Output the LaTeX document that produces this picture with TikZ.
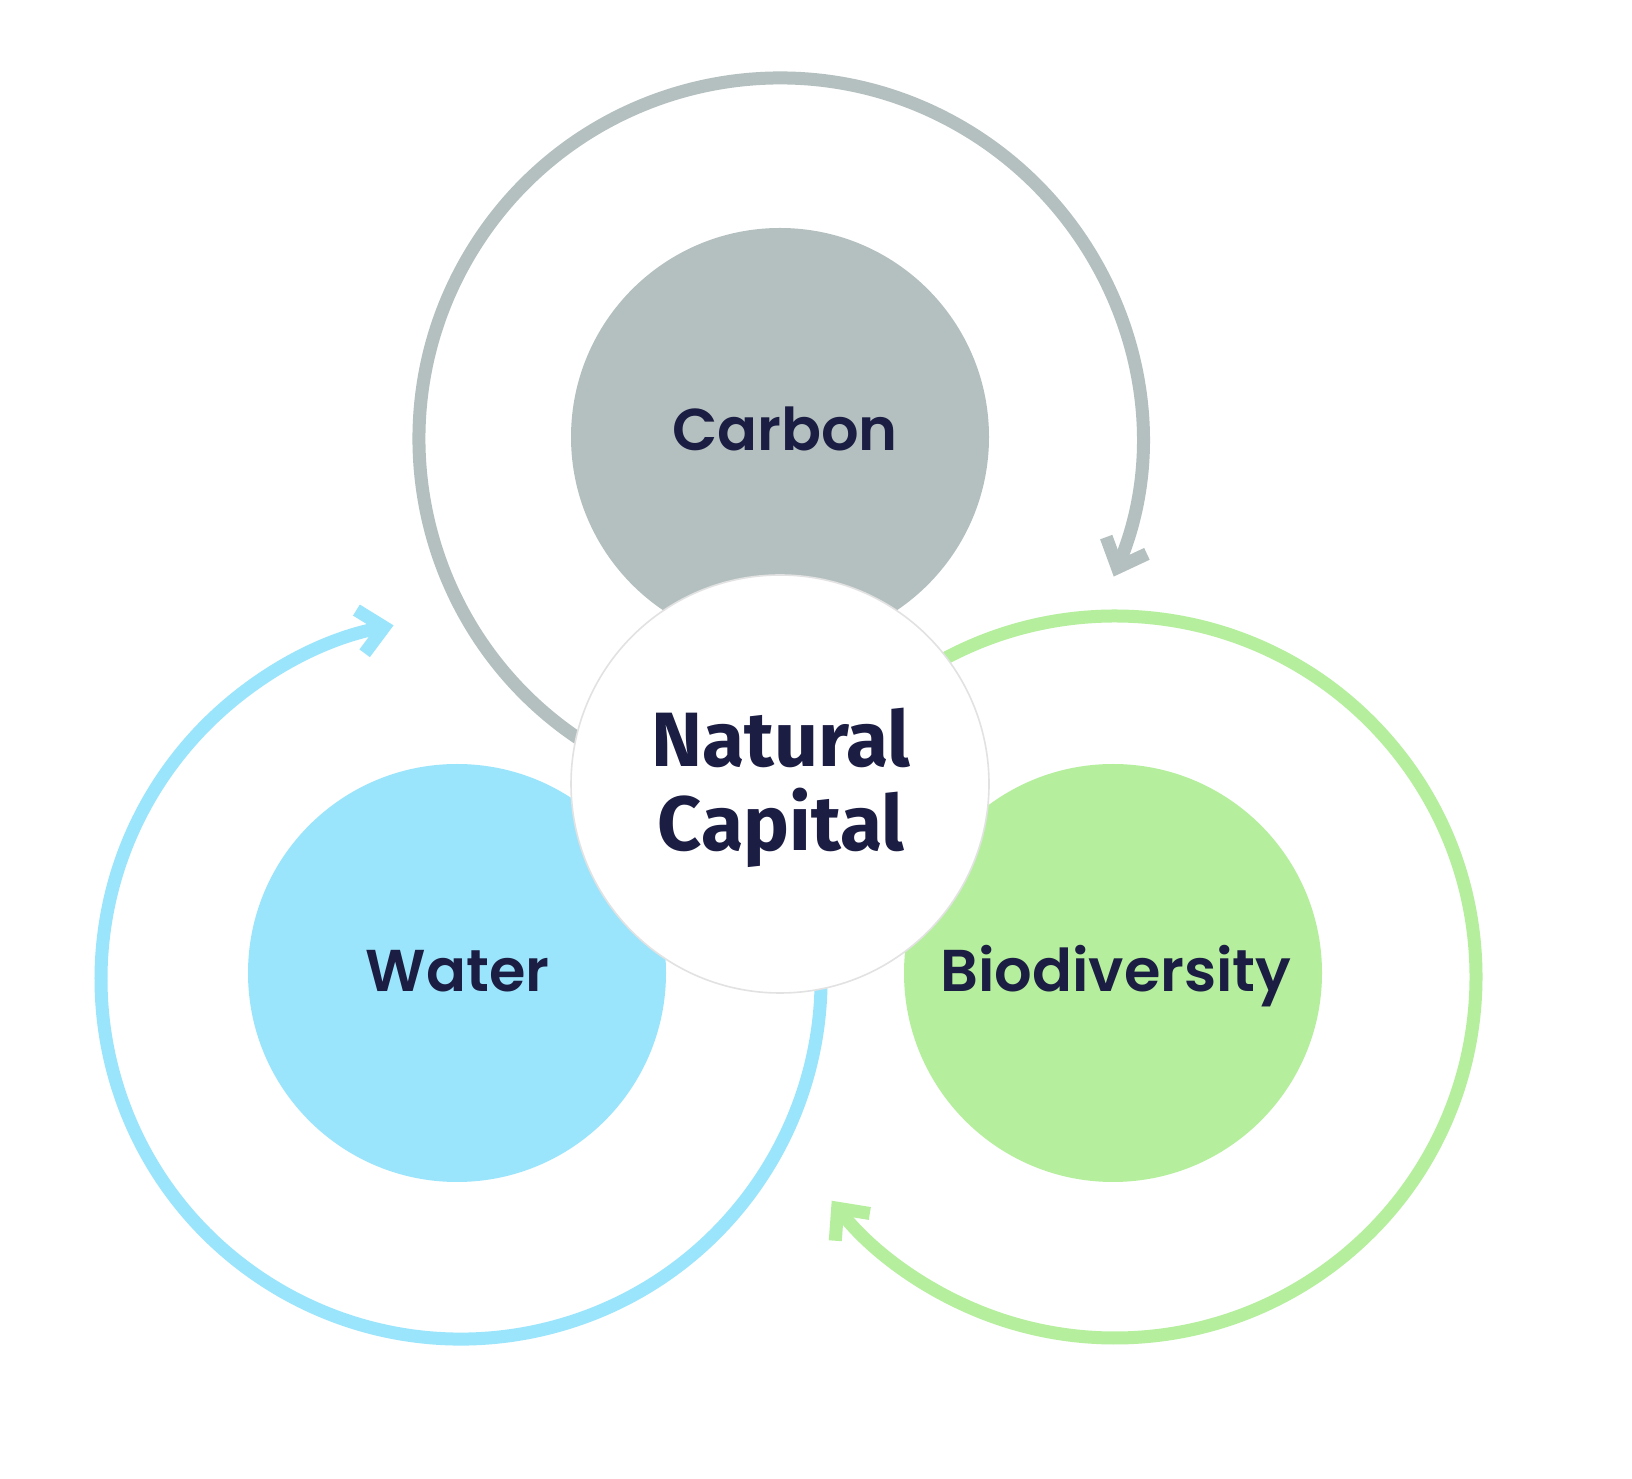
\documentclass[tikz,border=0pt]{standalone}
\usepackage{fontspec}
\usetikzlibrary{arrows.meta}
\newfontfamily\labfont{Poppins SemiBold}
\newfontfamily\capfont{Fira Sans Bold}
\definecolor{cgray}{HTML}{B4C0BF}
\definecolor{cblue}{HTML}{9BE5FC}
\definecolor{cgreen}{HTML}{B5EF9D}
\definecolor{ink}{HTML}{1B1D42}
\definecolor{rim}{HTML}{E2E2E2}
\begin{document}
\begin{tikzpicture}[x=0.5pt,y=0.5pt,
  fillc/.style={circle, minimum size=209pt, inner sep=0pt, draw=none},
  ring/.style={line width=6.5pt, -{Straight Barb[sharp,length=12pt,width=22pt]}},
  lab/.style={font=\labfont\fontsize{29.5}{36}\selectfont, text=ink, inner sep=0pt, anchor=base},
  caplab/.style={font=\capfont\fontsize{38.5}{46}\selectfont, text=ink, inner sep=0pt, anchor=base}]
\useasboundingbox[fill=white] (0,0) rectangle (1632,1478);
% filled circles
\node[fillc, fill=cgray] (carbon) at (780,1041) {};
\node[fillc, fill=cblue] (water) at (457,505) {};
\node[fillc, fill=cgreen] (bio) at (1113,505) {};
% ring centres
\coordinate (cring) at (780,1039);
\coordinate (wring) at (461,499);
\coordinate (bring) at (1115,501);
% rings with arrows
\draw[ring, cgray] ([shift={(240:361)}]cring) arc[start angle=240, end angle=-22.4, radius=361];
\draw[ring, cblue] ([shift={(15:360)}]wring) arc[start angle=15, end angle=-259.2, radius=360];
\draw[ring, cgreen] ([shift={(130:361)}]bring) arc[start angle=130, end angle=-141.7, radius=361];
% centre circle
\node[circle, minimum size=209pt, inner sep=0pt, fill=white, draw=rim, line width=0.8pt] (centre) at (780,694) {};
% labels
\node[lab] (carbonlab) at (785,1027) {Carbon};
\node[lab] (waterlab) at (457.5,486) {Water};
\node[lab] (biolab) at (1116,486) {Biodiversity};
\node[caplab] (nat) at (781,711) {Natural};
\node[caplab] (capi) at (781,627) {Capital};
\end{tikzpicture}
\end{document}
